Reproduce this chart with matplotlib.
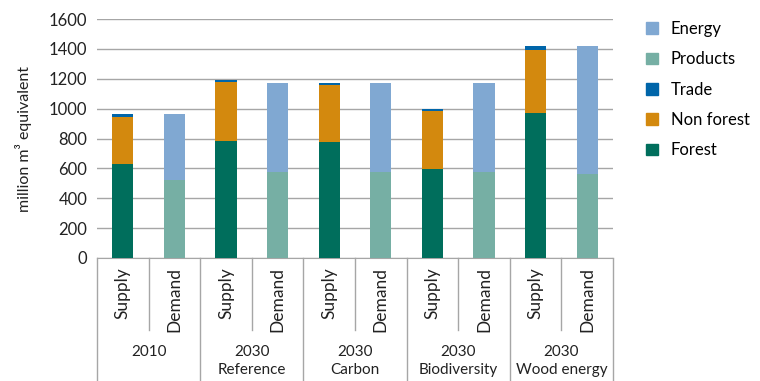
import matplotlib.pyplot as plt
import numpy as np
from matplotlib.patches import Patch

plt.rcParams['font.family'] = ['Lato', 'DejaVu Sans']

groups = ['2010', '2030\nReference', '2030\nCarbon', '2030\nBiodiversity', '2030\nWood energy']
kinds = ['Supply', 'Demand']

# supply side (million m3 equivalent)
forest = [630, 784, 777, 597, 971]
non_forest = [315, 395, 382, 388, 422]
trade = [20, 13, 13, 15, 27]
# demand side
products = [523, 577, 577, 577, 564]
energy = [442, 595, 595, 595, 856]

c_forest = '#006e5c'
c_nonf = '#d3890e'
c_trade = '#0065a9'
c_prod = '#76afa4'
c_energy = '#80a8d2'

fig = plt.figure(figsize=(7.6, 3.81), dpi=100)
ax = fig.add_axes([97/760, 123/381, 516/760, 239/381])

n = len(groups)
xs = np.arange(n) * 2
w = 0.41

forest = np.array(forest)
non_forest = np.array(non_forest)
trade = np.array(trade)
products = np.array(products)
energy = np.array(energy)

ax.bar(xs, forest, w, color=c_forest, zorder=3)
ax.bar(xs, non_forest, w, bottom=forest, color=c_nonf, zorder=3)
ax.bar(xs, trade, w, bottom=forest + non_forest, color=c_trade, zorder=3)
ax.bar(xs + 1, products, w, color=c_prod, zorder=3)
ax.bar(xs + 1, energy, w, bottom=products, color=c_energy, zorder=3)

ax.set_xlim(-0.5, 2 * n - 0.5)
ax.set_ylim(0, 1600)
ax.set_yticks(range(0, 1601, 200))
ax.tick_params(axis='y', length=0, labelsize=12, colors='#222222', pad=7)
ax.tick_params(axis='x', length=0)
ax.set_xticks([])
ax.grid(axis='y', color='#a6a6a6', linewidth=1.0, zorder=0)
for s in ['top', 'right', 'left']:
    ax.spines[s].set_visible(False)
ax.spines['bottom'].set_color('#a6a6a6')
ax.set_ylabel('million m³ equivalent', fontsize=11.5, color='#222222', labelpad=12)

# category boxes under the axis
trans = ax.get_xaxis_transform()
ph = 239.0
for i in range(2 * n + 1):
    x = i - 0.5
    depth = 123 if i % 2 == 0 else 72
    ax.plot([x, x], [0, -depth / ph], color='#a6a6a6', lw=1.0, transform=trans, clip_on=False)
for i in range(n):
    for j, k in enumerate(kinds):
        ax.text(xs[i] + j, -9 / ph, k, rotation=90, ha='center', va='top',
                fontsize=12.5, color='#222222', transform=trans)
    ax.text(xs[i] + 0.5, -87 / ph, groups[i], ha='center', va='top',
            fontsize=11, color='#222222', transform=trans, linespacing=1.35)

handles = [Patch(color=c_energy), Patch(color=c_prod), Patch(color=c_trade),
           Patch(color=c_nonf), Patch(color=c_forest)]
labels = ['Energy', 'Products', 'Trade', 'Non forest', 'Forest']
fig.legend(handles, labels, loc='upper left', bbox_to_anchor=(631/760, 1 - 6/381),
           frameon=False, fontsize=12, handlelength=0.7, handleheight=0.7,
           labelspacing=0.86, handletextpad=0.8)

fig.savefig('out.png', dpi=100)
